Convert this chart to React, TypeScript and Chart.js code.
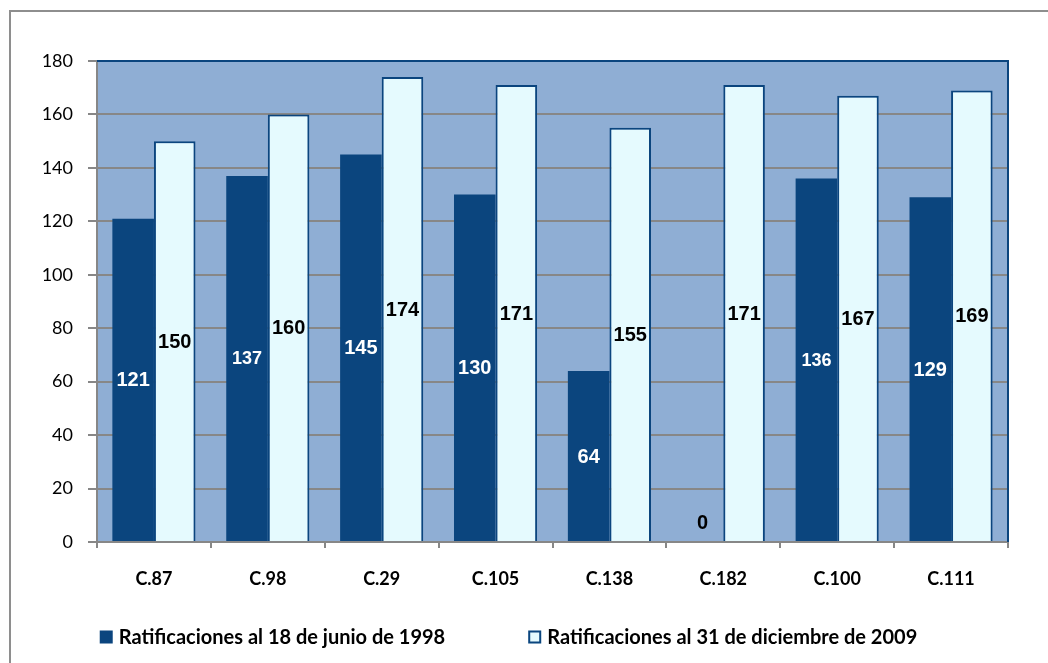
import React, { useEffect, useRef } from "react";
import { Chart, registerables } from "chart.js";

Chart.register(...registerables);

const categories = ["C.87", "C.98", "C.29", "C.105", "C.138", "C.182", "C.100", "C.111"];
const ratif1998 = [121, 137, 145, 130, 64, 0, 136, 129];
const ratif2009 = [150, 160, 174, 171, 155, 171, 167, 169];
const seriesLabels = ["Ratificaciones al 18 de junio de 1998", "Ratificaciones al 31 de diciembre de 2009"];
const yMin = 0;
const yMax = 180;
const yStep = 20;

const DARK = "#0B457E";
const LIGHT = "#E5FAFE";
const PLOT_BG = "#8FAED4";
const GRID = "#878787";
const SMALL_LABELS_DS0 = [1, 6];

const plotPlugin = {
  id: "plotDecor",
  beforeDraw(chart: any) {
    const { ctx, chartArea: a } = chart;
    ctx.save();
    ctx.fillStyle = "#ffffff";
    ctx.fillRect(0, 0, chart.width, chart.height);
    // outer frame (left and top edges visible)
    ctx.strokeStyle = "#8E8E8E";
    ctx.lineWidth = 2;
    ctx.beginPath();
    ctx.moveTo(10, chart.height + 5);
    ctx.lineTo(10, 11);
    ctx.lineTo(chart.width + 5, 11);
    ctx.stroke();
    ctx.fillStyle = PLOT_BG;
    ctx.fillRect(a.left, a.top, a.right - a.left, a.bottom - a.top);
    ctx.restore();
  },
  afterDatasetsDraw(chart: any) {
    const { ctx, chartArea: a } = chart;
    ctx.save();
    ctx.strokeStyle = DARK;
    ctx.lineWidth = 2;
    ctx.beginPath();
    ctx.moveTo(a.left, a.top);
    ctx.lineTo(a.right, a.top);
    ctx.lineTo(a.right, a.bottom);
    ctx.stroke();
    // value labels
    chart.data.datasets.forEach((ds: any, i: number) => {
      const meta = chart.getDatasetMeta(i);
      meta.data.forEach((bar: any, j: number) => {
        const v = ds.data[j];
        const p = bar.getProps(["x", "y", "base"], true);
        const cy = v === 0 ? p.base - 20 : (p.y + p.base) / 2;
        const size = i === 0 && SMALL_LABELS_DS0.includes(j) ? 18 : 20;
        ctx.font = `bold ${size}px "Liberation Sans", Arial, sans-serif`;
        ctx.fillStyle = i === 0 && v !== 0 ? "#ffffff" : "#000000";
        ctx.textAlign = "center";
        ctx.textBaseline = "middle";
        ctx.fillText(String(v), p.x, cy + 1);
      });
    });
    ctx.restore();
  },
  afterDraw(chart: any) {
    const { ctx } = chart;
    ctx.save();
    ctx.font = 'bold 20px Lato, "Open Sans", sans-serif';
    ctx.textBaseline = "middle";
    ctx.textAlign = "left";
    const box = 13;
    const gapText = 6;
    const gapItems = 83;
    const widths = seriesLabels.map((t) => ctx.measureText(t).width);
    const total = widths.reduce((s, w) => s + box + gapText + w, 0) + gapItems * (seriesLabels.length - 1);
    let x = 508.5 - total / 2;
    const cy = 637;
    chart.data.datasets.forEach((ds: any, i: number) => {
      ctx.fillStyle = ds.backgroundColor;
      ctx.fillRect(x, cy - box / 2, box, box);
      if (ds.borderWidth) {
        ctx.strokeStyle = ds.borderColor;
        ctx.lineWidth = 2;
        ctx.strokeRect(x + 1, cy - box / 2 + 1, box - 2, box - 2);
      }
      ctx.fillStyle = "#000000";
      ctx.fillText(ds.label, x + box + gapText, cy + 1);
      x += box + gapText + widths[i] + gapItems;
    });
    ctx.restore();
  },
};

export default function App() {
  const ref = useRef<HTMLCanvasElement | null>(null);
  useEffect(() => {
    if (!ref.current) return;
    const chart = new Chart(ref.current, {
      type: "bar",
      data: {
        labels: categories,
        datasets: [
          {
            label: seriesLabels[0],
            data: ratif1998,
            backgroundColor: DARK,
            borderWidth: 0,
          },
          {
            label: seriesLabels[1],
            data: ratif2009,
            backgroundColor: LIGHT,
            borderColor: DARK,
            borderWidth: 2,
          },
        ],
      },
      options: {
        animation: false,
        responsive: false,
        devicePixelRatio: 1,
        layout: { padding: { top: 61, right: 40, left: 0, bottom: 0 } },
        datasets: { bar: { categoryPercentage: 0.73, barPercentage: 1 } },
        plugins: {
          legend: { display: false },
          tooltip: { enabled: false },
        },
        scales: {
          x: {
            grid: {
              display: true,
              drawOnChartArea: false,
              drawTicks: true,
              tickLength: 6,
              color: GRID,
              lineWidth: 2,
              offset: true,
            },
            border: { display: true, color: GRID, width: 2 },
            ticks: {
              color: "#000000",
              font: { family: 'Lato, "Open Sans", sans-serif', size: 18, weight: "bold" },
              padding: 20,
            },
            afterFit(scale: any) {
              scale.height = 121;
            },
          },
          y: {
            min: yMin,
            max: yMax,
            grid: {
              color: GRID,
              lineWidth: 2,
              drawTicks: true,
              tickLength: 9,
            },
            border: { display: true, color: GRID, width: 2 },
            ticks: {
              stepSize: yStep,
              color: "#000000",
              font: { family: 'Lato, "Open Sans", sans-serif', size: 18 },
              padding: 15,
            },
            afterFit(scale: any) {
              scale.width = 97;
            },
          },
        },
      },
      plugins: [plotPlugin],
    } as any);
    return () => chart.destroy();
  }, []);
  return (
    <div style={{ position: "absolute", left: 0, top: 0, width: 1048, height: 663 }}>
      <canvas ref={ref} width={1048} height={663} style={{ display: "block", width: 1048, height: 663 }} />
    </div>
  );
}
